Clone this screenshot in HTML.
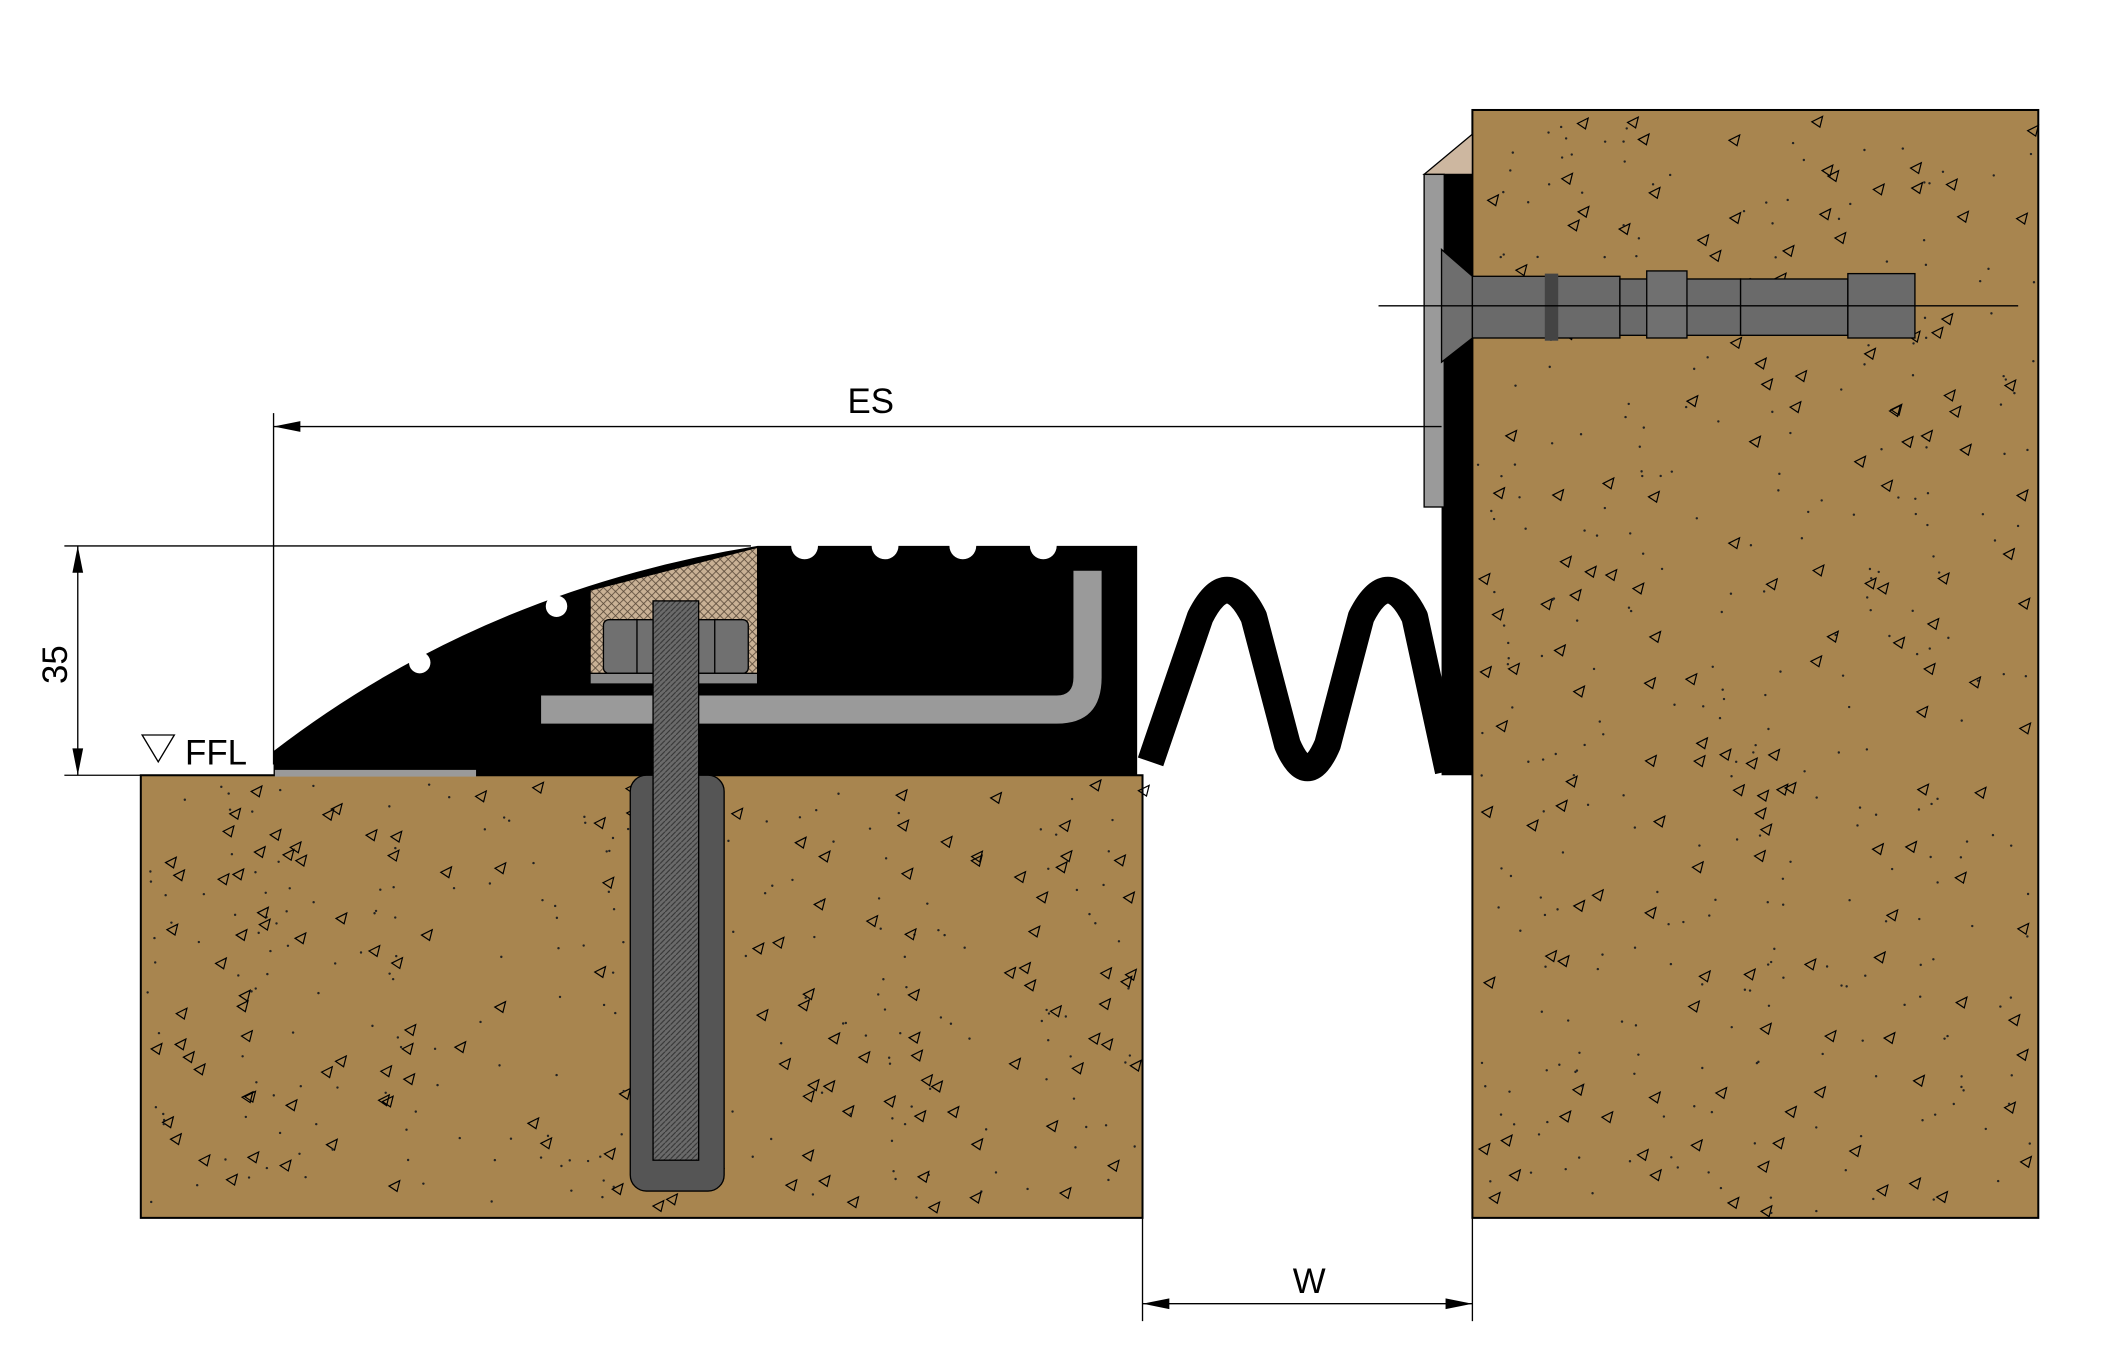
<!DOCTYPE html>
<html><head><meta charset="utf-8">
<style>html,body{margin:0;padding:0;background:#fff}svg{display:block}</style>
</head><body>
<svg id="s" width="2104" height="1352" viewBox="0 0 1569 1008" preserveAspectRatio="none" xmlns="http://www.w3.org/2000/svg" font-family="Liberation Sans, sans-serif">
<defs>
<pattern id="hatch" width="6" height="6" patternUnits="userSpaceOnUse">
<rect width="6" height="6" fill="#c9b195"/>
<path d="M0 0L6 6M6 0L0 6" stroke="#5a4a3a" stroke-width="0.6"/>
</pattern>
<pattern id="thread" width="4" height="4" patternUnits="userSpaceOnUse">
<rect width="4" height="4" fill="#6a6a6a"/>
<path d="M0 4L4 0" stroke="#333" stroke-width="0.8"/>
</pattern>
</defs>
<rect x="105" y="578" width="747" height="330" fill="#a8854f" stroke="#000" stroke-width="1.5"/>
<rect x="1098" y="82" width="422" height="826" fill="#a8854f" stroke="#000" stroke-width="1.5"/>
<g id="spk"></g>
<path d="M1062 130 L1098 100 L1098 130 Z" fill="#cdb7a0" stroke="#000" stroke-width="1"/>
<rect x="1075" y="130" width="23" height="448" fill="#000"/>
<rect x="1062" y="130" width="15" height="248" fill="#9a9a9a" stroke="#000" stroke-width="1"/>
<path d="M1075 186 L1098 206 L1098 252 L1075 270 Z" fill="#6e6e6e" stroke="#000"/>
<rect x="1098" y="206" width="110" height="46" fill="#6a6a6a" stroke="#000"/>
<rect x="1152" y="204" width="10" height="50" fill="#444"/>
<rect x="1208" y="208" width="90" height="42" fill="#6a6a6a" stroke="#000"/>
<rect x="1228" y="202" width="30" height="50" fill="#707070" stroke="#000"/>
<rect x="1298" y="208" width="80" height="42" fill="#6a6a6a" stroke="#000"/>
<rect x="1378" y="204" width="50" height="48" fill="#6a6a6a" stroke="#000"/>
<line x1="1028" y1="228" x2="1505" y2="228" stroke="#000" stroke-width="1"/>
<rect x="470" y="578" width="70" height="310" rx="12" fill="#555" stroke="#000"/>
<path d="M204 560 Q360 440 565 407 L848 407 L848 578 L204 578 Z" fill="#000"/>
<g fill="#fff">
<circle cx="600" cy="407" r="10"/><circle cx="660" cy="407" r="10"/><circle cx="718" cy="407" r="10"/><circle cx="778" cy="407" r="10"/>
<circle cx="415" cy="452" r="8"/><circle cx="313" cy="494" r="8"/>
</g>
<rect x="205" y="574" width="150" height="5" fill="#9a9a9a"/>
<path d="M440 440 L565 408 L565 510 L440 510 Z" fill="url(#hatch)" stroke="#000"/>
<path d="M403 518 L788 518 Q800 518 800 505 L800 425 L822 425 L822 505 Q822 540 788 540 L403 540 Z" fill="#9a9a9a" stroke="#000"/>
<rect x="450" y="462" width="108" height="40" rx="4" fill="#707070" stroke="#000"/>
<line x1="475" y1="462" x2="475" y2="502" stroke="#000"/><line x1="533" y1="462" x2="533" y2="502" stroke="#000"/>
<rect x="440" y="502" width="125" height="8" fill="#8a8a8a" stroke="#000"/>
<rect x="487" y="448" width="34" height="417" fill="url(#thread)" stroke="#000"/>
<path d="M858 568 L895 460 Q915 420 935 460 L960 555 Q975 590 990 555 L1015 460 Q1035 420 1055 460 L1080 575" fill="none" stroke="#000" stroke-width="20" stroke-linejoin="round"/>
<g stroke="#000" stroke-width="1" fill="none">
<line x1="204" y1="308" x2="204" y2="570"/>
<line x1="204" y1="318" x2="1075" y2="318"/>
<line x1="48" y1="407" x2="560" y2="407"/>
<line x1="48" y1="578" x2="200" y2="578"/>
<line x1="58" y1="407" x2="58" y2="578"/>
<line x1="852" y1="870" x2="852" y2="985"/>
<line x1="1098" y1="908" x2="1098" y2="985"/>
<line x1="852" y1="972" x2="1098" y2="972"/>
<path d="M106 548 L130 548 L118 568 Z"/>
</g>
<g fill="#000">
<path d="M204 318 L224 314 L224 322 Z"/>
<path d="M58 407 L54 427 L62 427 Z"/><path d="M58 578 L54 558 L62 558 Z"/>
<path d="M852 972 L872 968 L872 976 Z"/><path d="M1098 972 L1078 968 L1078 976 Z"/>
</g>
<g font-size="26" fill="#000">
<text x="632" y="308">ES</text>
<text x="138" y="570">FFL</text>
<text x="964" y="964">W</text>
<text transform="translate(50,510) rotate(-90)">35</text>
</g>
</svg>
<script>
var g=document.getElementById('spk'),h='',s=7;
function r(){s=(s*9301+49297)%233280;return s/233280;}
function add(x0,y0,w,hh,n){for(var i=0;i<n;i++){var x=x0+r()*w,y=y0+r()*hh;
if(r()<0.35){h+='<path d="M'+x+' '+y+'l8 -4l-2 8z" fill="none" stroke="#000" stroke-width="0.9"/>';}
else h+='<circle cx="'+x+'" cy="'+y+'" r="0.9" fill="#222"/>';}}
add(110,585,740,318,380);add(1102,90,415,815,480);
g.innerHTML=h;
</script>
</body></html>
